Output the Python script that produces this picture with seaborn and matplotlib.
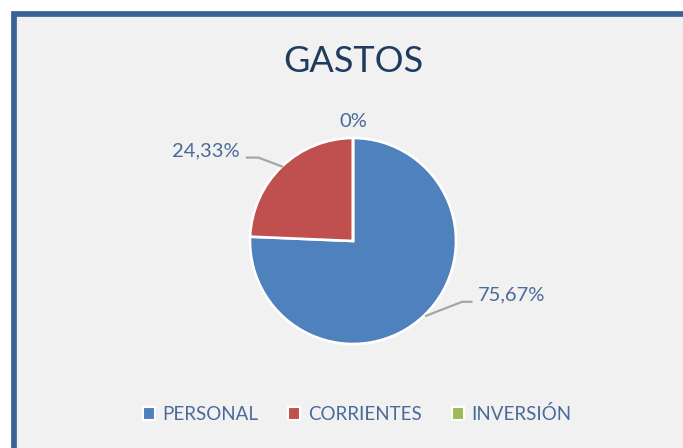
import matplotlib
matplotlib.use("Agg")
import matplotlib.pyplot as plt
import numpy as np
import seaborn as sns
from matplotlib.patches import Rectangle

categories = ["PERSONAL", "CORRIENTES", "INVERSIÓN"]
shares = [75.67, 24.33, 0.0]
pct_labels = ["75,67%", "24,33%", "0%"]

sns.set_style("white")
plt.rcParams["font.family"] = ["Lato", "DejaVu Sans"]

colors = ["#4F81BD", "#C0504D", "#9BBB59"]
text_col = "#4A6A9A"
title_col = "#1F3B5E"

W, H = 683, 448
fig = plt.figure(figsize=(W / 100, H / 100), dpi=100)
fig.patch.set_facecolor("white")

# chart panel with thick border on top/left (right and bottom run off the image)
fig.patches.append(Rectangle((14 / W, -20 / H), (W + 20) / W, (H - 14 + 20) / H,
                             transform=fig.transFigure, facecolor="#F1F1F1",
                             edgecolor="#3A6395", linewidth=4.1, zorder=-1))

R = 103.0
cx, cy = 353, 241
ax = fig.add_axes([0, 0, 1, 1])
ax.patch.set_alpha(0)

wedges, _ = ax.pie(shares, colors=colors, startangle=90, counterclock=False,
                   radius=1.0, wedgeprops=dict(edgecolor="white", linewidth=1.9))

ax.set_xlim(-cx / R, (W - cx) / R)
ax.set_ylim(-(H - cy) / R, cy / R)
ax.set_aspect("equal")
ax.axis("off")

# label placement per slice (pixel offsets relative to the pie centre)
label_pos = {0: (159, -54), 1: (-147, 90), 2: (0, 120)}
leader = {0: [(0.70, -0.73), (1.06, -0.59), (1.16, -0.59)],
          1: [(-0.68, 0.72), (-0.92, 0.81), (-1.04, 0.81)]}

for i, w in enumerate(wedges):
    dx, dy = label_pos[i]
    ax.text(dx / R, dy / R, pct_labels[i], ha="center", va="center",
            fontsize=14.5, color=text_col)
    if i in leader:
        pts = np.array(leader[i])
        ax.plot(pts[:, 0], pts[:, 1], color="#A6A6A6", lw=1.6, solid_capstyle="butt")

fig.text(cx / W, 1 - 61 / H, "GASTOS", ha="center", va="center",
         fontsize=26, color=title_col)

handles = [Rectangle((0, 0), 1, 1, facecolor=c, edgecolor="white", linewidth=1.5)
           for c in colors]
leg = fig.legend(handles, categories, loc="center", bbox_to_anchor=(357 / W, 1 - 414 / H),
                 ncol=3, frameon=False, fontsize=13.5, handlelength=0.65,
                 handleheight=0.65, handletextpad=0.4, columnspacing=1.6)
for t in leg.get_texts():
    t.set_color(text_col)

fig.savefig("out.png", dpi=100)
